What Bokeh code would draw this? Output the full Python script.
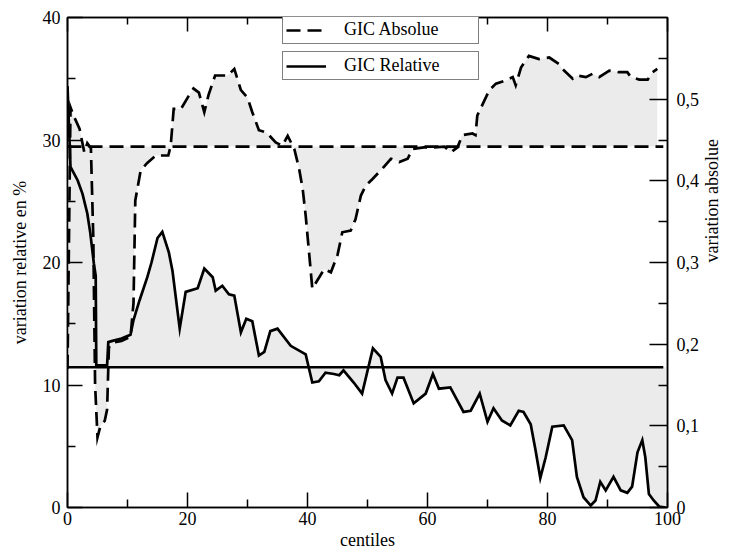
import math
from bokeh.plotting import figure
from bokeh.models import Range1d, LinearAxis, FixedTicker, Legend, LegendItem
from bokeh.embed import file_html
from bokeh.resources import INLINE

# ---- data ----
# GIC Absolue (right axis, "variation absolue")
abs_x = [0, 0.5, 1, 2, 2.8, 3.3, 3.9, 4.3, 4.6, 5, 5.5, 6.2, 6.6, 6.9, 7.5, 9, 10.5, 11,
         11.3, 12.2, 13.3, 14.7, 16.8, 17.2, 17.7, 18.9, 20.2, 21, 21.9, 22.8, 23.5, 24.6,
         26.7, 27.8, 28.9, 30, 30.8, 31.9, 33.2, 34.7, 35.8, 36.7, 37.8, 38.6, 39.2, 39.7,
         40.3, 40.8, 42.8, 43.9, 45, 45.8, 47.2, 48, 48.9, 49.7, 50.8, 52.5, 53.9, 55.3,
         56.7, 57.5, 59.4, 61.1, 62.8, 63.9, 65, 65.8, 67.5, 68, 68.3, 69.2, 70.3, 71.4,
         73.1, 74.2, 74.7, 75.6, 76.9, 78.6, 80.3, 81.9, 82.5, 84.2, 85, 86.4, 87.5, 88.6,
         90.3, 91.9, 93.3, 93.9, 95.3, 96.7, 97.5, 98.3]
abs_y = [0.17, 0.49, 0.48, 0.464, 0.435, 0.446, 0.44, 0.33, 0.15, 0.086, 0.10, 0.106, 0.12,
         0.196, 0.202, 0.204, 0.209, 0.25, 0.376, 0.413, 0.422, 0.431, 0.431, 0.443, 0.488,
         0.488, 0.504, 0.513, 0.508, 0.484, 0.505, 0.529, 0.529, 0.537, 0.511, 0.502, 0.484,
         0.462, 0.459, 0.447, 0.443, 0.455, 0.439, 0.415, 0.39, 0.357, 0.309, 0.268, 0.292,
         0.288, 0.309, 0.337, 0.339, 0.353, 0.382, 0.394, 0.402, 0.415, 0.427, 0.423, 0.427,
         0.439, 0.441, 0.441, 0.442, 0.435, 0.441, 0.456, 0.458, 0.456, 0.48, 0.494, 0.511,
         0.519, 0.523, 0.527, 0.517, 0.539, 0.553, 0.549, 0.551, 0.543, 0.537, 0.525, 0.529,
         0.527, 0.531, 0.527, 0.535, 0.533, 0.533, 0.527, 0.524, 0.524, 0.533, 0.537]

# GIC Relative (left axis, "variation relative en %")
rel_x = [0, 0.5, 1.7, 2.5, 3.3, 3.8, 4.4, 4.7, 4.8, 6.6, 6.8, 7.5, 9, 10.5, 11, 12, 13.3,
         14, 15, 15.8, 16.9, 17.5, 18.7, 19.7, 21.7, 22.8, 24.2, 24.7, 25.8, 26.9, 27.8,
         28.9, 29.8, 30.8, 31.9, 32.8, 33.8, 35, 37.2, 39.7, 40.2, 40.8, 41.9, 43, 44.4,
         45.3, 46, 47.7, 49.1, 50.9, 52.2, 53, 54.1, 55, 56, 57.7, 59.7, 60.9, 61.9, 63.8,
         66, 67.2, 68.7, 70, 71, 72.4, 73.8, 75.2, 76, 77.2, 78, 78.8, 79.7, 80.8, 82.7,
         84.1, 84.9, 86, 87.2, 88, 88.8, 89.7, 91, 92.2, 93.3, 94.1, 95, 95.8, 96.3, 96.9,
         97.7, 98.6, 99.7]
rel_y = [34.4, 27.8, 26.7, 25.6, 24.0, 22.4, 19.9, 18.9, 11.6, 11.6, 13.5, 13.6, 13.8, 14.1,
         15.3, 16.9, 18.8, 20.0, 22.0, 22.5, 20.8, 19.3, 14.6, 17.6, 17.9, 19.5, 18.8, 17.7,
         18.1, 17.4, 17.3, 14.3, 15.4, 15.2, 12.4, 12.7, 14.4, 14.6, 13.2, 12.5, 11.45, 10.2,
         10.3, 11.0, 10.9, 10.8, 11.2, 10.2, 9.3, 13.0, 12.3, 10.4, 9.3, 10.6, 10.6, 8.5, 9.3,
         10.9, 9.7, 9.8, 7.8, 7.9, 9.3, 7.0, 8.1, 7.1, 6.7, 7.9, 7.8, 6.8, 4.7, 2.4, 4.1, 6.6,
         6.7, 5.5, 2.5, 0.84, 0.16, 0.57, 2.1, 1.4, 2.5, 1.4, 1.2, 1.7, 4.5, 5.5, 4.1, 1.1,
         0.57, 0.08, 0.0]

abs_mean = 0.442
rel_mean = 11.45
mean_x = [0, 99.3]
# shaded band between the two mean lines at the lowest centiles
band_x = [0, 4.5]

x_ticks = [0, 20, 40, 60, 80, 100]
x_minor = [10, 30, 50, 70, 90]
left_ticks = [0, 10, 20, 30, 40]
left_minor = [5, 15, 25, 35]
right_ticks = [0, 0.1, 0.2, 0.3, 0.4, 0.5]
right_minor = [0.05, 0.15, 0.25, 0.35, 0.45, 0.55]
right_labels = ["0", "0,1", "0,2", "0,3", "0,4", "0,5"]

FONT = "Liberation Serif"
FS = "18px"
FILL = "#ebebeb"
DASH = "14 7"
LW = 2.7

p = figure(width=735, height=552, x_range=Range1d(0, 100), y_range=Range1d(0, 40),
           output_backend="svg", toolbar_location=None,
           x_axis_location=None, y_axis_location=None,
           min_border_left=67, min_border_right=68, min_border_top=17, min_border_bottom=45)
p.extra_y_ranges = {"abs": Range1d(0, 0.6)}
p.xgrid.visible = False
p.ygrid.visible = False
p.outline_line_color = "black"
p.outline_line_width = 1.5
p.background_fill_color = "white"
p.border_fill_color = "white"


def style(ax):
    ax.axis_line_color = "black"
    ax.axis_line_width = 1.5
    ax.major_tick_in = 15
    ax.major_tick_out = 0
    ax.minor_tick_in = 8
    ax.minor_tick_out = 0
    ax.major_tick_line_width = 1.5
    ax.minor_tick_line_width = 1.5
    ax.major_tick_line_color = "black"
    ax.minor_tick_line_color = "black"
    ax.major_label_text_font = FONT
    ax.major_label_text_font_size = FS
    ax.major_label_text_color = "black"
    ax.axis_label_text_font = FONT
    ax.axis_label_text_font_size = FS
    ax.axis_label_text_font_style = "normal"
    ax.axis_label_text_color = "black"


bottom = LinearAxis(ticker=FixedTicker(ticks=x_ticks, minor_ticks=x_minor),
                    axis_label="centiles", major_label_standoff=4, axis_label_standoff=2)
style(bottom)
p.add_layout(bottom, "below")

top = LinearAxis(ticker=FixedTicker(ticks=x_ticks, minor_ticks=x_minor),
                 major_label_overrides={t: "" for t in x_ticks}, major_label_standoff=0)
style(top)
top.major_label_text_font_size = "0px"
top.major_tick_in = 14
top.minor_tick_in = 7
p.add_layout(top, "above")

left = LinearAxis(ticker=FixedTicker(ticks=left_ticks, minor_ticks=left_minor),
                  axis_label="variation relative en %", major_label_standoff=7,
                  axis_label_standoff=10)
style(left)
p.add_layout(left, "left")

right = LinearAxis(y_range_name="abs",
                   ticker=FixedTicker(ticks=right_ticks, minor_ticks=right_minor),
                   major_label_overrides=dict(zip(right_ticks, right_labels)),
                   axis_label="variation absolue", major_label_standoff=9,
                   axis_label_standoff=10, axis_label_orientation=math.pi / 2)
style(right)
right.major_tick_in = 18
right.minor_tick_in = 9
p.add_layout(right, "right")

# fills between each curve and its mean line
p.varea(x=band_x, y1=[rel_mean] * 2, y2=[abs_mean / 0.6 * 40] * 2, fill_color=FILL)
p.varea(x=abs_x, y1=[abs_mean] * len(abs_x), y2=abs_y, fill_color=FILL,
        y_range_name="abs")
p.varea(x=rel_x, y1=[rel_mean] * len(rel_x), y2=rel_y, fill_color=FILL)

# mean lines
p.line(mean_x, [abs_mean, abs_mean], y_range_name="abs", line_color="black",
       line_width=LW, line_dash=DASH)
p.line(mean_x, [rel_mean, rel_mean], line_color="black", line_width=LW)

# curves
r_abs = p.line(abs_x, abs_y, y_range_name="abs", line_color="black", line_width=LW,
               line_dash=DASH, line_join="miter")
r_rel = p.line(rel_x, rel_y, line_color="black", line_width=LW, line_join="miter")


def make_legend(label, rend, loc):
    lg = Legend(items=[LegendItem(label=label, renderers=[rend])], location=loc)
    lg.border_line_color = "black"
    lg.border_line_width = 1.5
    lg.background_fill_color = "white"
    lg.background_fill_alpha = 1.0
    lg.padding = 3
    lg.margin = 0
    lg.spacing = 0
    lg.glyph_width = 40
    lg.glyph_height = 16
    lg.label_height = 16
    lg.label_width = 131
    lg.label_standoff = 18
    lg.label_text_font = FONT
    lg.label_text_font_size = FS
    lg.label_text_color = "black"
    return lg


p.add_layout(make_legend("GIC Absolue", r_abs, (215, 463)))
p.add_layout(make_legend("GIC Relative", r_rel, (215, 427)))

open("out.html", "w").write(file_html(p, INLINE))
